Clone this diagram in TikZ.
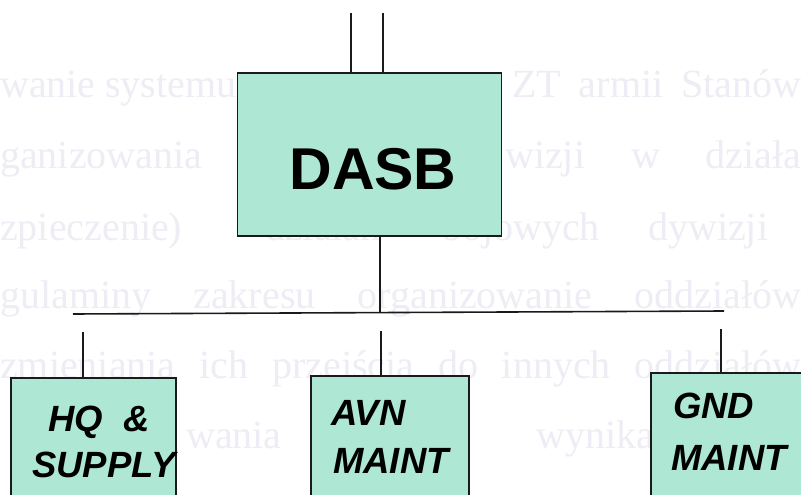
\documentclass[tikz,border=0pt]{standalone}
\usepackage{fontspec}
\setmainfont{Liberation Sans}
\newfontfamily\ghostfont{Liberation Serif}
\definecolor{boxfill}{HTML}{AEE8D4}
\definecolor{ghost}{HTML}{EEECF4}
\definecolor{inkline}{HTML}{1A1A1A}
\tikzset{
  unitbox/.style={draw=inkline, line width=1.6pt, fill=boxfill, rectangle, inner sep=0pt},
  link/.style={draw=inkline, line width=1.6pt},
  bigtitle/.style={font=\fontsize{59}{59}\selectfont\bfseries, inner sep=0pt, anchor=base},
  subtitle/.style={font=\fontsize{36.5}{36.5}\selectfont\bfseries\itshape, inner sep=0pt, anchor=base west},
  ghostline/.style={font=\ghostfont\fontsize{40}{40}\selectfont, text=ghost, inner sep=0pt, anchor=base west}
}
\begin{document}
\begin{tikzpicture}[x=1pt,y=-1pt]
\useasboundingbox (0,0) rectangle (801,495);
\clip (0,0) rectangle (801,495);
\fill[white] (0,0) rectangle (801,495);
% faint show-through text of the scanned page (only the parts seen between the boxes)
\node[ghostline] (g1a) at (0,98) {\hbox to 236pt{wanie\hfill systemu}};
\node[ghostline] (g1b) at (512,98) {\hbox to 289pt{ZT\hfill armii\hfill Stanów}};
\node[ghostline] (g2a) at (0,168) {ganizowania};
\node[ghostline] (g2b) at (505,168) {\hbox to 296pt{wizji\hfill w\hfill działa}};
\node[ghostline] (g3a) at (0,240) {zpieczenie)};
\node[ghostline] (g3b) at (265,240) {działań};
\node[ghostline] (g3c) at (442,240) {bojowych};
\node[ghostline] (g3d) at (648,240) {dywizji};
\node[ghostline] (g4) at (0,308) {\hbox to 801pt{gulaminy\hfill zakresu\hfill organizowanie\hfill oddziałów}};
\node[ghostline] (g5) at (0,378) {\hbox to 801pt{zmieniania\hfill ich\hfill przejścia\hfill do\hfill innych\hfill oddziałów}};
\node[ghostline] (g6a) at (186,448) {wania};
\node[ghostline] (g6b) at (536,448) {wynika};

% boxes
\node[unitbox, minimum width=264pt, minimum height=163pt] (dasb) at (369.5,154.5) {};
\node[unitbox, minimum width=165pt, minimum height=170pt] (hq) at (93.5,463) {};
\node[unitbox, minimum width=158pt, minimum height=170pt] (avn) at (390,461) {};
\node[unitbox, minimum width=200pt, minimum height=170pt] (gnd) at (751,458) {};

% texts
\node[bigtitle] (dasbtxt) at (373,189) {DASB};
\node[subtitle] (hq1) at (48,431) {HQ \ \&};
\node[subtitle] (hq2) at (32,477) {SUPPLY};
\node[subtitle] (avn1) at (331,425) {AVN};
\node[subtitle] (avn2) at (333,473) {MAINT};
\node[subtitle] (gnd1) at (673,418) {GND};
\node[subtitle] (gnd2) at (671,470) {MAINT};

% connectors
\coordinate (up1) at (351,13);
\coordinate (up2) at (383,13);
\draw[link] (up1) -- (up1 |- dasb.north);
\draw[link] (up2) -- (up2 |- dasb.north);
\coordinate (busL) at (73,314);
\coordinate (busR) at (724,311);
\coordinate (busC) at (380,312.5);
\draw[link] (busL) -- (busR);
\draw[link] (busC |- dasb.south) -- (busC);
\coordinate (dHQ) at (83,332);
\coordinate (dAVN) at (381,331);
\coordinate (dGND) at (721,329);
\draw[link] (dHQ) -- (dHQ |- hq.north);
\draw[link] (dAVN) -- (dAVN |- avn.north);
\draw[link] (dGND) -- (dGND |- gnd.north);
\end{tikzpicture}
\end{document}
